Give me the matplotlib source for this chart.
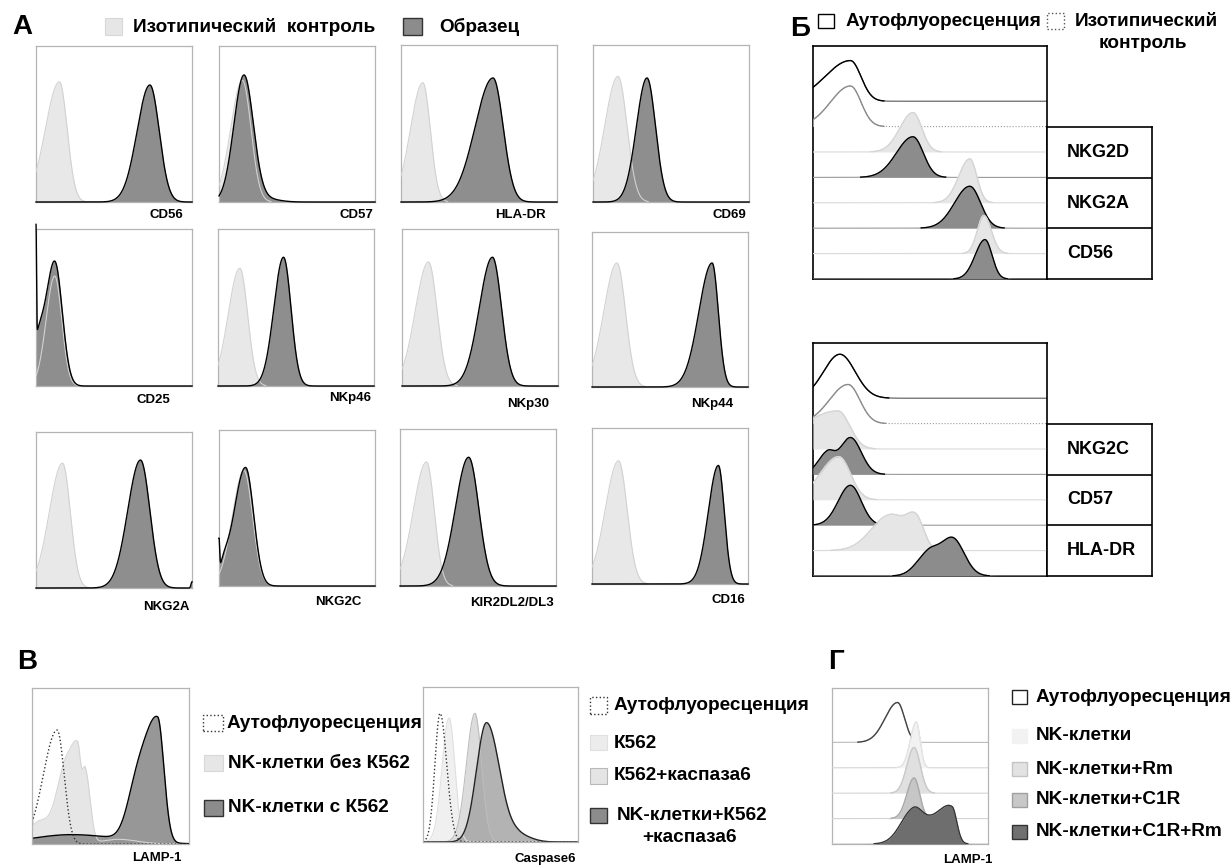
import numpy as np
import matplotlib
matplotlib.use('Agg')
import matplotlib.pyplot as plt
from matplotlib.patches import Rectangle

plt.rcParams['font.family'] = ['Liberation Sans', 'DejaVu Sans']
plt.rcParams['font.weight'] = 'bold'

# ---- data: peaks (x in % of axis, height in % / track units)
# each peak: (centre, left spread, right spread, height)

# panel A: isotype control vs sample
a_markers = ['CD56', 'CD57', 'HLA-DR', 'CD69',
             'CD25', 'NKp46', 'NKp30', 'NKp44',
             'NKG2A', 'NKG2C', 'KIR2DL2/DL3', 'CD16']
a_iso_peak = [15, 15, 14, 16, 12, 14, 17, 16, 17, 16, 17, 17]
a_iso_left = [9, 7.5, 8, 8.5, 5.5, 7.5, 8.5, 8.5, 8.5, 7.5, 8.5, 8.5]
a_iso_right = [5, 5.5, 4.8, 5.8, 4.5, 5, 5.5, 5.5, 5, 5.5, 5, 5.5]
a_iso_height = [77, 78, 76, 80, 70, 75, 79, 80, 80, 74, 79, 79]
a_smp_peak = [73, 16, 59, 34.6, 12, 42, 58, 77, 67, 17, 44, 81]
a_smp_left = [8.2, 6.5, 11.5, 6.8, 5.5, 6.2, 8.5, 8.5, 8.2, 7.5, 8.5, 6.5]
a_smp_right = [6, 6, 6.5, 5.5, 4.8, 4.8, 5.8, 4, 6, 5.2, 6.5, 3.8]
a_smp_height = [75, 81, 79, 79, 79, 82, 82, 80, 82, 76, 82, 76]
a_smp_extra = {
    'CD57': [(30, 8, 8, 2)],
    'CD25': [(1, 3, 4, 25), (0, 0.3, 0.3, 72)],
    'NKG2A': [(100, 0.6, 0.6, 4)],
    'NKG2C': [(0, 0.4, 0.4, 20), (3, 3, 3, 8)],
}

# panel B (upper and lower stacks)
b_legend = ['Аутофлуоресценция', 'Изотипический', 'контроль']
b1_markers = ['NKG2D', 'NKG2A', 'CD56']
b1_auto = [(16, 10.9, 4.5, 1.6)]
b1_iso = [(16, 8.5, 4.5, 1.6)]
b1_light = [[(42.7, 5.6, 3.8, 1.55)], [(67, 4.7, 3, 1.73)], [(73, 2.8, 3.2, 1.5)]]
b1_dark = [[(42.7, 7, 4.4, 1.6)], [(67, 6.5, 4.6, 1.65)], [(73.5, 4.2, 3, 1.55)]]

b2_markers = ['NKG2C', 'CD57', 'HLA-DR']
b2_auto = [(11.5, 7, 6.5, 1.73)]
b2_iso = [(15, 8, 5, 1.54)]
b2_light = [[(10.7, 16, 5, 1.5)], [(11, 8, 5, 1.7)],
            [(33, 8, 6, 1.4), (44, 4, 3.4, 1.2)]]
b2_dark = [[(16, 4.6, 4.6, 1.45), (6, 4, 3, 0.8)], [(16, 5.2, 4.6, 1.57)],
           [(59.5, 5.5, 5, 1.5), (49, 5, 4, 0.8)]]

# panel V: LAMP-1 and caspase6
v_lamp_legend = ['Аутофлуоресценция', 'NK-клетки без К562', 'NK-клетки с К562']
v_lamp_auto = [(16, 8.8, 4.5, 73)]
v_lamp_nk = [(6, 8, 12, 15), (21, 5, 4, 40), (29, 4, 2, 56), (34, 2, 3, 45),
             (55, 10, 12, 3), (0, 0.3, 0.3, 22)]
v_lamp_k562 = [(25, 25, 30, 6), (66, 6, 6, 22), (80, 9, 4, 79)]

v_casp_legend = ['Аутофлуоресценция', 'К562', 'К562+каспаза6', 'NK-клетки+К562', '+каспаза6']
v_casp_auto = [(11, 3.3, 4.3, 83)]
v_casp_k562 = [(16.8, 4.5, 3.8, 80)]
v_casp_k562c6 = [(33.5, 5.5, 4.3, 83)]
v_casp_nk = [(41, 6.5, 8.5, 77), (62, 5, 8, 4)]

# panel G: LAMP-1 stacked
g_legend = ['Аутофлуоресценция', 'NK-клетки', 'NK-клетки+Rm', 'NK-клетки+C1R', 'NK-клетки+C1R+Rm']
g_auto = [(42, 8, 4.5, 1.57)]
g_nk = [(54, 3.8, 2.5, 1.8)]
g_rm = [(52.6, 4.6, 4, 1.8)]
g_c1r = [(52.6, 4.6, 3.6, 1.6)]
g_c1r_rm = [(52, 8, 6, 1.3), (65, 7, 7, 0.75), (77, 7, 3, 1.3)]

# ---- helpers
W, H = 1232, 866
X = np.linspace(0, 100, 2001)
FS = 13.7


def curve(comps):
    y = np.zeros_like(X)
    for c, sl, sr, h in comps:
        s = np.where(X < c, sl, sr)
        y += h * np.exp(-0.5 * ((X - c) / s) ** 2)
    return y


fig = plt.figure(figsize=(W / 100, H / 100), dpi=100)


def box(x0, y0, x1, y1, edge='#b4b4b4', lw=0.9):
    ax = fig.add_axes([x0 / W, 1 - y1 / H, (x1 - x0) / W, (y1 - y0) / H])
    ax.set_xticks([])
    ax.set_yticks([])
    for s in ax.spines.values():
        s.set_color(edge)
        s.set_linewidth(lw)
    ax.set_xlim(0, 100)
    return ax


def text(x, y, s, size=FS, **kw):
    kw.setdefault('va', 'center')
    fig.text(x / W, 1 - y / H, s, fontsize=size, fontweight='bold', **kw)


def swatch(x0, y0, x1, y1, **kw):
    fig.add_artist(Rectangle((x0 / W, 1 - y1 / H), (x1 - x0) / W, (y1 - y0) / H,
                             transform=fig.transFigure, **kw))


def stack(ax, tracks, top):
    # tracks: list of (comps, fill, edge, base colour, base style), top to bottom
    for i, (comps, fill, edge, bcol, bls) in enumerate(tracks):
        base = top - i
        y = curve(comps)
        z = 2 * i + 1
        ax.fill_between(X, base, base + y, color=fill, lw=0, zorder=z)
        ax.plot(X, base + y, color=bcol, ls=bls, lw=0.8, zorder=z + 0.5)
        ax.plot(X, np.where(y > 0.01, base + y, np.nan), color=edge, lw=1.0, zorder=z + 0.6)


# ---- panel A
a_boxes = [(36, 46, 192, 202), (219, 46, 375, 202), (401, 45, 557, 202), (593, 45, 749, 202),
           (36, 229, 192, 386), (218, 229, 374, 386), (402, 229, 558, 386), (592, 232, 748, 387),
           (36, 432, 192, 588), (219, 430, 375, 586), (400, 429, 556, 586), (592, 428, 748, 584)]
a_lab = [(166, 215), (356, 215), (520, 215), (729, 215),
         (153, 400), (350, 398), (528, 404), (712, 404),
         (166, 607), (338, 602), (512, 603), (728, 600)]

for i, m in enumerate(a_markers):
    ax = box(*a_boxes[i])
    ax.set_ylim(0, 100)
    iso = curve([(a_iso_peak[i], a_iso_left[i], a_iso_right[i], a_iso_height[i])])
    smp = curve([(a_smp_peak[i], a_smp_left[i], a_smp_right[i], a_smp_height[i])]
                + a_smp_extra.get(m, []))
    ax.fill_between(X, 0, iso, color='#e8e8e8', lw=0, zorder=1)
    ax.fill_between(X, 0, smp, color='#8e8e8e', lw=0, zorder=2)
    ax.plot(X, np.where(iso > 0.3, iso, np.nan), color='#d2d2d2', lw=0.8, zorder=3)
    ax.plot(X, smp, color='black', lw=1.0, zorder=4, clip_on=False)
    text(a_lab[i][0], a_lab[i][1], m, size=9.5, ha='center')

text(12, 27, 'А', size=20)
swatch(105, 18, 122, 35, facecolor='#e6e6e6', edgecolor='#d8d8d8', lw=0.8)
text(133, 27, 'Изотипический  контроль')
swatch(403, 18, 422, 35, facecolor='#8c8c8c', edgecolor='#333333', lw=1.0)
text(439, 27, 'Образец')

# ---- panel B
text(790, 29, 'Б', size=20)
swatch(818, 14, 834, 28, facecolor='white', edgecolor='black', lw=1.0)
text(846, 21, b_legend[0])
swatch(1047, 13, 1064, 29, facecolor='white', edgecolor='#555555', lw=1.0, ls=':')
text(1075, 21, b_legend[1])
text(1143, 44, b_legend[2], ha='center')

for (y0, auto, iso, light, dark, markers) in [
        (46, b1_auto, b1_iso, b1_light, b1_dark, b1_markers),
        (343, b2_auto, b2_iso, b2_light, b2_dark, b2_markers)]:
    ax = box(813, y0, 1047, y0 + 233, edge='black', lw=1.2)
    ax.set_ylim(0, 233 / 25.4)
    tracks = [(auto, 'white', 'black', '#555555', '-'),
              (iso, 'white', '#8a8a8a', '#999999', ':')]
    for lc, dc in zip(light, dark):
        tracks.append((lc, '#e6e6e6', '#d6d6d6', '#dadada', '-'))
        tracks.append((dc, '#8c8c8c', 'black', '#9a9a9a', '-'))
    stack(ax, tracks, 7)
    lx = box(1047, y0 + 81, 1152, y0 + 233, edge='black', lw=1.2)
    lx.set_ylim(0, 3)
    for k in (1, 2):
        lx.axhline(k, color='black', lw=1.2)
    for k, m in enumerate(markers):
        lx.text(19, 2.5 - k, m, fontsize=13, fontweight='bold', va='center', ha='left')

# ---- panel V
text(17, 662, 'В', size=20)
ax = box(32, 688, 189, 844)
ax.set_ylim(0, 100)
nk = curve(v_lamp_nk)
k5 = curve(v_lamp_k562)
au = curve(v_lamp_auto)
ax.fill_between(X, 0, nk, color='#e6e6e6', lw=0)
ax.fill_between(X, 0, k5, color='#8c8c8c', lw=0, alpha=0.9)
ax.plot(X, nk, color='#d4d4d4', lw=0.8)
ax.plot(X, k5, color='black', lw=1.0)
ax.plot(X, au, color='#333333', lw=1.0, ls=':')
text(157, 858, 'LAMP-1', size=9.5, ha='center')

swatch(203, 715, 223, 731, facecolor='white', edgecolor='#333333', lw=1.0, ls=':')
text(227, 723, v_lamp_legend[0])
swatch(204, 755, 223, 771, facecolor='#e6e6e6', edgecolor='#d8d8d8', lw=0.8)
text(228, 763, v_lamp_legend[1])
swatch(204, 800, 223, 816, facecolor='#8c8c8c', edgecolor='#333333', lw=1.0)
text(228, 808, v_lamp_legend[2])

ax = box(423, 687, 578, 842)
ax.set_ylim(0, 100)
c1 = curve(v_casp_k562)
c2 = curve(v_casp_k562c6)
c3 = curve(v_casp_nk)
c0 = curve(v_casp_auto)
ax.fill_between(X, 0, c1, color='#f0f0f0', lw=0)
ax.fill_between(X, 0, c2, color='#dcdcdc', lw=0)
ax.fill_between(X, 0, c3, color='#a6a6a6', lw=0, alpha=0.85)
ax.plot(X, c1, color='#e0e0e0', lw=0.8)
ax.plot(X, c2, color='#bdbdbd', lw=0.8)
ax.plot(X, c3, color='#222222', lw=1.0)
ax.plot(X, c0, color='#333333', lw=1.0, ls=':')
text(545, 859, 'Caspase6', size=9.5, ha='center')

swatch(590, 697, 607, 714, facecolor='white', edgecolor='#333333', lw=1.0, ls=':')
text(614, 705, v_casp_legend[0])
swatch(590, 735, 607, 750, facecolor='#ececec', edgecolor='#e0e0e0', lw=0.8)
text(614, 743, v_casp_legend[1])
swatch(590, 768, 607, 784, facecolor='#e4e4e4', edgecolor='#b8b8b8', lw=0.8)
text(614, 776, v_casp_legend[2])
swatch(590, 808, 607, 823, facecolor='#8c8c8c', edgecolor='#333333', lw=1.0)
text(617, 816, v_casp_legend[3])
text(642, 838, v_casp_legend[4])

# ---- panel G
text(828, 662, 'Г', size=20)
ax = box(832, 688, 988, 844)
ax.set_ylim(0, 156 / 25.4)
stack(ax, [(g_auto, 'white', '#444444', '#bbbbbb', '-'),
           (g_nk, '#f2f2f2', '#e6e6e6', '#d4d4d4', '-'),
           (g_rm, '#e0e0e0', '#cacaca', '#d4d4d4', '-'),
           (g_c1r, '#c6c6c6', '#a8a8a8', '#d4d4d4', '-'),
           (g_c1r_rm, '#6e6e6e', '#333333', '#cccccc', '-')], 4)
text(968, 860, 'LAMP-1', size=9.5, ha='center')

g_sw = [('white', '#222222'), ('#f2f2f2', '#f2f2f2'), ('#e2e2e2', '#c4c4c4'),
        ('#c8c8c8', '#a0a0a0'), ('#707070', '#333333')]
g_y = [697, 736, 769, 800, 832]
for k, lab in enumerate(g_legend):
    swatch(1012, g_y[k] - 7, 1027, g_y[k] + 7, facecolor=g_sw[k][0], edgecolor=g_sw[k][1], lw=1.0)
    text(1036, g_y[k], lab)

fig.savefig('out.png', dpi=100)
